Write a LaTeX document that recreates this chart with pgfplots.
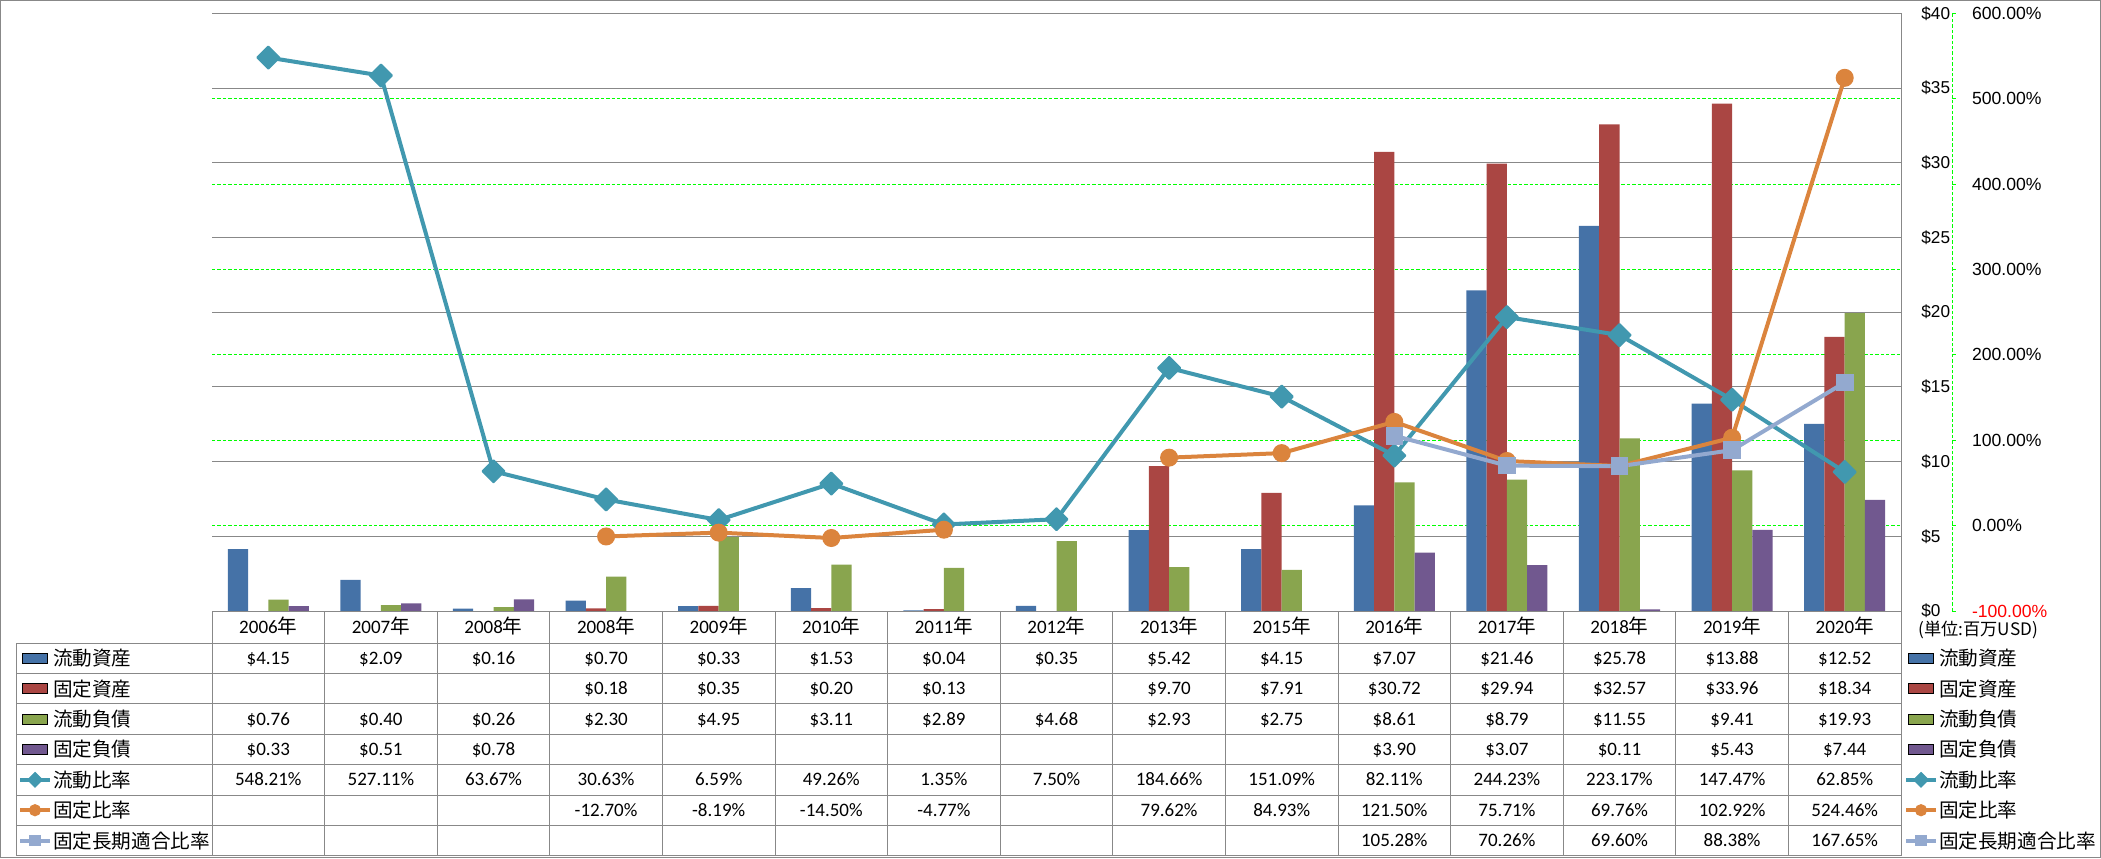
\documentclass[border=0pt]{standalone}
\usepackage{pgfplots}
\pgfplotsset{compat=1.18}
\usepackage{pgfplotstable}
\usepackage{fontspec}
\setmainfont{Carlito}
\newfontfamily\cjk{Noto Sans CJK JP}
\newfontfamily\tickf{Liberation Sans}
\definecolor{cA}{HTML}{4572A7}
\definecolor{cB}{HTML}{AA4643}
\definecolor{cC}{HTML}{89A54E}
\definecolor{cD}{HTML}{71588F}
\definecolor{cE}{HTML}{4198AF}
\definecolor{cF}{HTML}{DB843D}
\definecolor{cG}{HTML}{93A9CF}
\definecolor{gline}{HTML}{00FF00}
\definecolor{gray8}{HTML}{888888}
\newcommand\nen{{\fontsize{9.8}{11}\cjk 年}}

\pgfplotstableread{
x ca fa cl fl cr fr flr
0 4.15 nan 0.76 0.33 548.21 nan nan
1 2.09 nan 0.40 0.51 527.11 nan nan
2 0.16 nan 0.26 0.78 63.67 nan nan
3 0.70 0.18 2.30 nan 30.63 -12.70 nan
4 0.33 0.35 4.95 nan 6.59 -8.19 nan
5 1.53 0.20 3.11 nan 49.26 -14.50 nan
6 0.04 0.13 2.89 nan 1.35 -4.77 nan
7 0.35 nan 4.68 nan 7.50 nan nan
8 5.42 9.70 2.93 nan 184.66 79.62 nan
9 4.15 7.91 2.75 nan 151.09 84.93 nan
10 7.07 30.72 8.61 3.90 82.11 121.50 105.28
11 21.46 29.94 8.79 3.07 244.23 75.71 70.26
12 25.78 32.57 11.55 0.11 223.17 69.76 69.60
13 13.88 33.96 9.41 5.43 147.47 102.92 88.38
14 12.52 18.34 19.93 7.44 62.85 524.46 167.65
}\data

\pgfplotsset{
  common/.style={scale only axis, width=844.5pt, height=298.85pt,
    at={(106pt,-305.5pt)}, anchor=south west, xmin=-0.5, xmax=14.5},
  mybar/.style={legend image code/.code={\path[fill=#1] (1pt,-2.5pt) rectangle (13.5pt,2.5pt);}},
  myline/.style={legend image code/.code={\draw[mark repeat=2,mark phase=2,##1] plot coordinates {(0pt,0pt) (7.5pt,0pt) (15pt,0pt)};}},
  tablegend/.style={legend style={at={(axis description cs:#1,-0.05354)}, anchor=north west,
     draw=none, fill=none, inner sep=0pt, outer sep=0pt, column sep=0.5pt, row sep=0pt,
     font=\fontsize{9.8}{11}\cjk,
     nodes={inner sep=0pt, outer sep=0pt, text height=11.3pt, text depth=3.9pt, anchor=west}},
     legend cell align=left},
}
\newcommand\addkeys{%
  \addlegendimage{mybar=cA}
  \addlegendimage{mybar=cB}
  \addlegendimage{mybar=cC}
  \addlegendimage{mybar=cD}
  \addlegendimage{myline, cE, line width=2pt, mark=square*, mark size=2.6pt, mark options={rotate=45, line width=0.5pt}}
  \addlegendimage{myline, cF, line width=2pt, mark=*, mark size=2.8pt, mark options={line width=0.5pt}}
  \addlegendimage{myline, cG, line width=2pt, mark=square*, mark size=2.6pt, mark options={line width=0.5pt}}
  \legend{流動資産,固定資産,流動負債,固定負債,流動比率,固定比率,固定長期適合比率}
}
\tikzset{tabtext/.style={font=\fontsize{9.5}{11}\selectfont, anchor=base, inner sep=0pt},
  tl/.style={gray8, line width=0.5pt}}
\newcommand\tabrow[2]{\foreach \v [count=\k from 0] in {#2} {\node[tabtext] at ({212+112.6*(\k+0.5)},#1) {\v};}}

\begin{document}
\begin{tikzpicture}
\useasboundingbox (0,0) rectangle (1050.5pt,-429pt);

% green grid (secondary axis scale)
\begin{axis}[common, ymin=-100, ymax=600, ytick={0,100,...,500}, yticklabels={}, xtick=\empty,
  ymajorgrids, major grid style={gline, line width=0.5pt, dash pattern=on 1.7pt off 1pt},
  axis line style={draw=none}, tick style={draw=none}, tablegend=-0.11486]
\addplot[forget plot, draw=none] coordinates {(0,0)};
\addkeys
\end{axis}

% bars
\begin{axis}[common, ymin=0, ymax=40, ytick={0,5,...,40},
  yticklabels={\$0,\$5,\$10,\$15,\$20,\$25,\$30,\$35,\$40},
  ymajorgrids, major grid style={gray8, line width=0.5pt},
  axis x line=none, axis y line=right, y axis line style={-, gray8, line width=0.5pt},
  major tick length=0pt,
  yticklabel style={font=\fontsize{8.6}{10}\tickf, anchor=west, inner sep=0pt, xshift=10pt}]
\addplot[ybar, bar width=0.18, bar shift=-0.27, fill=cA, draw=none] table[x=x,y=ca]{\data};
\addplot[ybar, bar width=0.18, bar shift=-0.09, fill=cB, draw=none] table[x=x,y=fa]{\data};
\addplot[ybar, bar width=0.18, bar shift=0.09, fill=cC, draw=none] table[x=x,y=cl]{\data};
\addplot[ybar, bar width=0.18, bar shift=0.27, fill=cD, draw=none] table[x=x,y=fl]{\data};
\end{axis}

% lines
\begin{axis}[common, ymin=-100, ymax=600, ytick={-100,0,...,600},
  yticklabels={\textcolor{red}{-100.00\%},0.00\%,100.00\%,200.00\%,300.00\%,400.00\%,500.00\%,600.00\%},
  axis x line=none, axis y line=right,
  y axis line style={-, gline, line width=0.5pt, dash pattern=on 1.7pt off 1pt, xshift=25.5pt},
  ytick style={gline, line width=0.5pt, xshift=25.5pt},
  tick align=outside, major tick length=1.8pt,
  yticklabel style={font=\fontsize{8.8}{10}\tickf, anchor=west, inner sep=0pt, xshift=33.5pt},
  unbounded coords=jump, tablegend=1.00178]
\addplot[forget plot, cE, line width=2pt, mark=square*, mark size=3.9pt, mark options={rotate=45, line width=1pt, line join=round}] table[x=x,y=cr]{\data};
\addplot[forget plot, cF, line width=2pt, mark=*, mark size=4.2pt, mark options={line width=0.6pt}] table[x=x,y=fr]{\data};
\addplot[forget plot, cG, line width=2pt, mark=square*, mark size=4.1pt, mark options={line width=0.6pt}] table[x=x,y=flr]{\data};
\addkeys
\end{axis}

\begin{scope}[x=0.5pt, y=-0.5pt]
\draw[tl] (0.5,0.5) rectangle (2100.5,857.5);
\foreach \k in {0,...,15} \draw[tl] ({212+112.6*\k},611) -- ({212+112.6*\k},856);
\draw[tl] (16.7,643) -- (16.7,856);
\foreach \yy in {643,673.4,703.8,734.2,764.6,795,825.4,855.8} \draw[tl] (16.7,\yy) -- (1901,\yy);
\draw[tl] (212,611) -- (1901,611);
\foreach \v [count=\k from 0] in {2006,2007,2008,2008,2009,2010,2011,2012,2013,2015,2016,2017,2018,2019,2020}
  \node[tabtext] at ({212+112.6*(\k+0.5)},633) {\v\nen};
\tabrow{664.2}{\$4.15,\$2.09,\$0.16,\$0.70,\$0.33,\$1.53,\$0.04,\$0.35,\$5.42,\$4.15,\$7.07,\$21.46,\$25.78,\$13.88,\$12.52}
\tabrow{694.6}{{},{},{},\$0.18,\$0.35,\$0.20,\$0.13,{},\$9.70,\$7.91,\$30.72,\$29.94,\$32.57,\$33.96,\$18.34}
\tabrow{725}{\$0.76,\$0.40,\$0.26,\$2.30,\$4.95,\$3.11,\$2.89,\$4.68,\$2.93,\$2.75,\$8.61,\$8.79,\$11.55,\$9.41,\$19.93}
\tabrow{755.4}{\$0.33,\$0.51,\$0.78,{},{},{},{},{},{},{},\$3.90,\$3.07,\$0.11,\$5.43,\$7.44}
\tabrow{785.8}{548.21\%,527.11\%,63.67\%,30.63\%,6.59\%,49.26\%,1.35\%,7.50\%,184.66\%,151.09\%,82.11\%,244.23\%,223.17\%,147.47\%,62.85\%}
\tabrow{816.2}{{},{},{},-12.70\%,-8.19\%,-14.50\%,-4.77\%,{},79.62\%,84.93\%,121.50\%,75.71\%,69.76\%,102.92\%,524.46\%}
\tabrow{846.6}{{},{},{},{},{},{},{},{},{},{},105.28\%,70.26\%,69.60\%,88.38\%,167.65\%}
\node[anchor=west, inner sep=0pt, font=\fontsize{8.6}{10}\cjk] at (1918,630) {(単位:百万USD)};
\end{scope}
\end{tikzpicture}
\end{document}
